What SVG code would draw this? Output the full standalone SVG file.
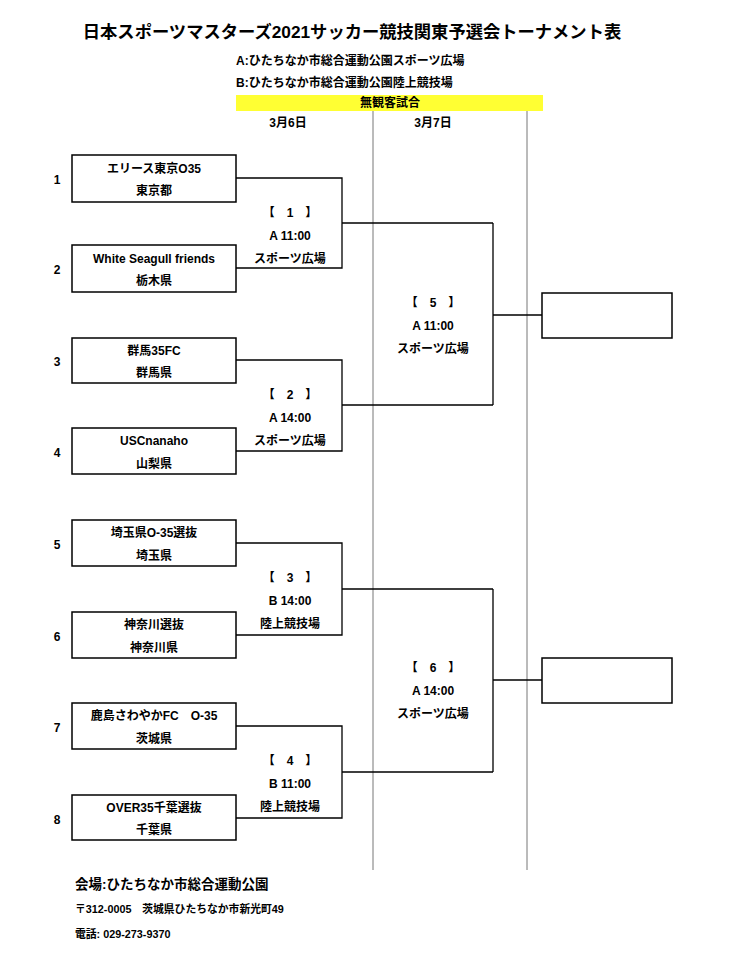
<svg xmlns="http://www.w3.org/2000/svg" width="732" height="973" viewBox="0 0 732 973">
<style>
text{font-family:"Liberation Sans","Noto Sans CJK JP",sans-serif;font-weight:bold;fill:#000}
.t{font-size:12px;text-anchor:middle}
.n{font-size:12px;text-anchor:middle}
.box{fill:#fff;stroke:#000;stroke-width:1.5}
.c{fill:none;stroke:#000;stroke-width:1.3}
.g{stroke:#777;stroke-width:1}
</style>
<rect width="732" height="973" fill="#fff"/>
<text x="352" y="38" font-size="17.3" text-anchor="middle">日本スポーツマスターズ2021サッカー競技関東予選会トーナメント表</text>
<text x="236" y="65" font-size="12">A:ひたちなか市総合運動公園スポーツ広場</text>
<text x="236" y="87" font-size="12">B:ひたちなか市総合運動公園陸上競技場</text>
<rect x="236" y="95" width="307" height="16" fill="#ffff33"/>
<text x="390" y="107" class="t">無観客試合</text>
<text x="288" y="127" class="t">3月6日</text>
<text x="433" y="127" class="t">3月7日</text>
<g id="grid"><line class="g" x1="373" y1="111" x2="373" y2="870"/><line class="g" x1="527" y1="111" x2="527" y2="870"/></g>
<g id="connectors">
<path class="c" d="M236 178H342V268H236M342 223H493"/>
<path class="c" d="M236 360H342V451H236M342 405H493"/>
<path class="c" d="M493 223V405M493 315H542"/>
<path class="c" d="M236 543H342V635H236M342 589H493"/>
<path class="c" d="M236 726H342V818H236M342 772H493"/>
<path class="c" d="M493 589V772M493 680H542"/>
</g>
<g id="team1"><text x="57" y="184" class="n">1</text><rect class="box" x="72" y="155" width="164" height="47"/><text x="154" y="173" class="t">エリース東京O35</text><text x="154" y="195" class="t">東京都</text></g>
<g id="team2"><text x="57" y="274" class="n">2</text><rect class="box" x="72" y="245" width="164" height="47"/><text x="154" y="263" class="t">White Seagull friends</text><text x="154" y="285" class="t">栃木県</text></g>
<g id="team3"><text x="57" y="366" class="n">3</text><rect class="box" x="72" y="338" width="164" height="45"/><text x="154" y="355" class="t">群馬35FC</text><text x="154" y="377" class="t">群馬県</text></g>
<g id="team4"><text x="57" y="457" class="n">4</text><rect class="box" x="72" y="428" width="164" height="46"/><text x="154" y="445" class="t">USCnanaho</text><text x="154" y="468" class="t">山梨県</text></g>
<g id="team5"><text x="57" y="549" class="n">5</text><rect class="box" x="72" y="520" width="164" height="46"/><text x="154" y="537" class="t">埼玉県O-35選抜</text><text x="154" y="560" class="t">埼玉県</text></g>
<g id="team6"><text x="57" y="641" class="n">6</text><rect class="box" x="72" y="612" width="164" height="46"/><text x="154" y="629" class="t">神奈川選抜</text><text x="154" y="652" class="t">神奈川県</text></g>
<g id="team7"><text x="57" y="732" class="n">7</text><rect class="box" x="72" y="703" width="164" height="46"/><text x="154" y="720" class="t">鹿島さわやかFC　O-35</text><text x="154" y="743" class="t">茨城県</text></g>
<g id="team8"><text x="57" y="824" class="n">8</text><rect class="box" x="72" y="795" width="164" height="45"/><text x="154" y="812" class="t">OVER35千葉選抜</text><text x="154" y="834" class="t">千葉県</text></g>
<g id="match1"><text x="290" y="217" class="t">【　1　】</text><text x="290" y="240" class="t">A 11:00</text><text x="290" y="263" class="t">スポーツ広場</text></g>
<g id="match2"><text x="290" y="399" class="t">【　2　】</text><text x="290" y="422" class="t">A 14:00</text><text x="290" y="445" class="t">スポーツ広場</text></g>
<g id="match3"><text x="290" y="582" class="t">【　3　】</text><text x="290" y="605" class="t">B 14:00</text><text x="290" y="628" class="t">陸上競技場</text></g>
<g id="match4"><text x="290" y="765" class="t">【　4　】</text><text x="290" y="788" class="t">B 11:00</text><text x="290" y="811" class="t">陸上競技場</text></g>
<g id="match5"><text x="433" y="307" class="t">【　5　】</text><text x="433" y="330" class="t">A 11:00</text><text x="433" y="353" class="t">スポーツ広場</text></g>
<g id="match6"><text x="433" y="672" class="t">【　6　】</text><text x="433" y="695" class="t">A 14:00</text><text x="433" y="718" class="t">スポーツ広場</text></g>
<g id="winner1"><rect class="box" x="542" y="293" width="130" height="45"/></g>
<g id="winner2"><rect class="box" x="542" y="658" width="130" height="45"/></g>
<text x="75" y="889" font-size="13.5">会場:ひたちなか市総合運動公園</text>
<text x="75" y="913" font-size="10.8">〒312-0005　茨城県ひたちなか市新光町49</text>
<text x="75" y="938" font-size="10.8">電話: 029-273-9370</text>
</svg>
